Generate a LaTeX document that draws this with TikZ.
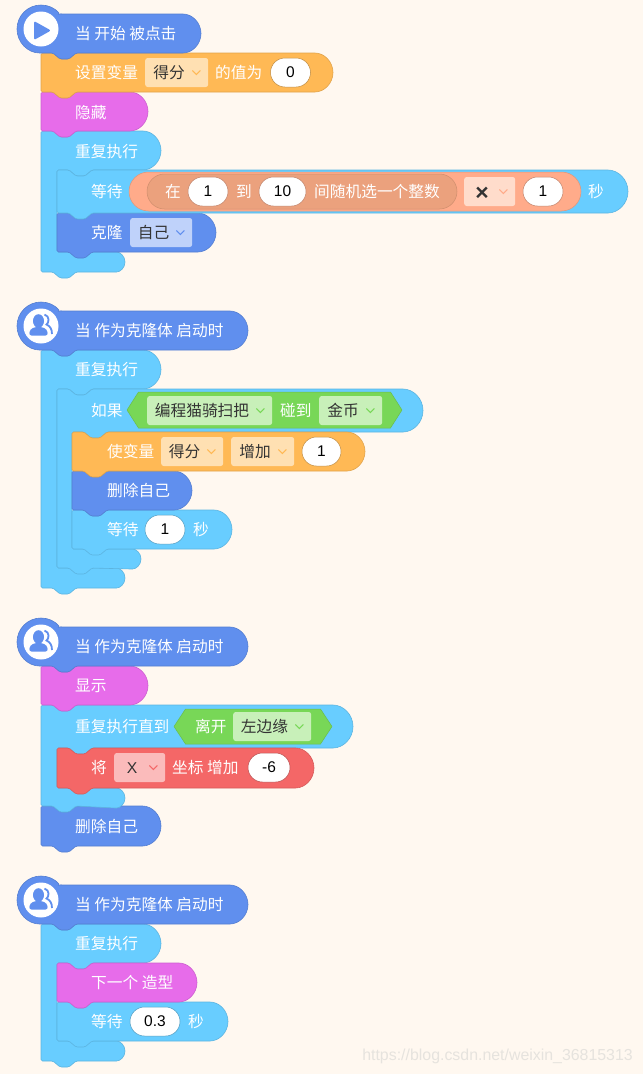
\documentclass[tikz,border=0pt]{standalone}
\usepackage{fontspec}
\setmainfont{Noto Sans CJK SC}
\newfontfamily\numfont{Liberation Sans}
\usepackage{xcolor}
\usetikzlibrary{positioning}
\definecolor{rpaper}{HTML}{FFF8F0}
\definecolor{rblue}{HTML}{608FEE}
\definecolor{rorange}{HTML}{FFB955}
\definecolor{rpink}{HTML}{E76CEA}
\definecolor{rcyan}{HTML}{68CDFF}
\definecolor{rgreen}{HTML}{78D757}
\definecolor{rred}{HTML}{F46767}
\definecolor{rsalmon}{HTML}{FFAB8A}
\definecolor{rsalmondark}{HTML}{EBA17D}
\definecolor{rorangepale}{HTML}{FFE0B2}
\definecolor{rbluepale}{HTML}{BFD2FA}
\definecolor{rgreenpale}{HTML}{C8F0B9}
\definecolor{rredpale}{HTML}{FBBBBB}
\definecolor{rsalmonpale}{HTML}{FFDCCB}
\definecolor{rink}{HTML}{333333}
\definecolor{rwater}{HTML}{E6E3DE}
\tikzset{
  blockedge/.style={fill=#1,draw=#1!88!black,line width=.6pt,rounded corners=1.5pt},
  blocktext/.style={anchor=west,inner sep=0pt,text=white,text height=13pt,text depth=1pt,font=\fontsize{15.7}{16}\selectfont},
  inktext/.style={anchor=center,inner sep=0pt,text=rink,text height=13pt,text depth=1pt,font=\fontsize{15.7}{16}\selectfont},
  numpill/.style={fill=white,draw=#1!75!black,line width=.5pt,rounded corners=14.5pt,minimum height=29pt,inner sep=0pt,text=black,font=\numfont\fontsize{15.5}{16}\selectfont},
  dropbox/.style={fill=#1,rounded corners=2.5pt,minimum height=29pt,inner sep=0pt,anchor=west},
  dropchev/.style={draw=#1,line width=1.1pt},
  reporter/.style={fill=#1,draw=#1!88!black,line width=.5pt,inner sep=0pt},
  iconball/.style={circle,fill=white,minimum size=35pt,inner sep=0pt}
}
\newcommand{\stackshape}[5]{
  \pgfmathsetmacro{\capr}{(#4-#3)/2}
  \draw[blockedge=#1] (#2,#3) -- (#2+12,#3) -- (#2+19,#3+6) -- (#2+28,#3+6) -- (#2+35,#3) -- (#5-\capr,#3)
    arc[start angle=-90,end angle=90,radius=\capr] -- (#2+35,#4) -- (#2+28,#4+6) -- (#2+19,#4+6) -- (#2+12,#4) -- (#2,#4) -- cycle;
}
\newcommand{\hatshape}[3]{
  \draw[blockedge=#1] (59.7,#2-39) -- (#3-19.5,#2-39) arc[start angle=-90,end angle=90,radius=19.5]
    -- (76,#2) -- (69,#2+6) -- (60,#2+6) -- (53,#2) -- (41,#2) arc[start angle=90,end angle=321.3,radius=24] -- cycle;
}
\newcommand{\loopshape}[9]{
  \pgfmathsetmacro{\capr}{(#4-#3)/2}
  \draw[blockedge=#1] (#2,#3) -- (#2+12,#3) -- (#2+19,#3+6) -- (#2+28,#3+6) -- (#2+35,#3) -- (#5-\capr,#3)
    arc[start angle=-90,end angle=90,radius=\capr] -- (#6+35,#4) -- (#6+28,#4+6) -- (#6+19,#4+6) -- (#6+12,#4) -- (#6,#4)
    -- (#6,#7) -- (#8-10,#7) arc[start angle=-90,end angle=90,radius=10]
    -- (#2+35,#9) -- (#2+28,#9+6) -- (#2+19,#9+6) -- (#2+12,#9) -- (#2,#9) -- cycle;
}
\newcommand{\boolshape}[4]{
  \draw[reporter=rgreen,line join=round] (#1,#3/2+#4/2) -- (#1+11.5,#3) -- (#2-11.5,#3) -- (#2,#3/2+#4/2) -- (#2-11.5,#4) -- (#1+11.5,#4) -- cycle;
}
\newcommand{\dropmenu}[7]{
  \node[dropbox=#5,minimum width=#3pt] (#1) at (#2,#4) {};
  \node[inktext] (#1word) at ([xshift={(#3-15)/2}]#1.west) {#7};
  \draw[dropchev=#6,shift={(#1.east)}] (-16,-2) -- (-12,2) -- (-8,-2);
}
\newcommand{\cloneicon}[2]{
  \node[iconball] (#1) at (41,#2) {};
  \begin{scope}[shift={(#1.center)}]
    \fill[rblue] (-2.5,-5) ellipse (5.5 and 6.8);
    \fill[rblue,rounded corners=2.5pt] (-12,9.5) -- (-11,3.5) -- (-6,1) -- (1,1) -- (6,3.5) -- (7,9.5) -- cycle;
    \draw[rblue,line width=1.8pt] (3.5,-11.5) .. controls (9,-10) and (8,-3) .. (5.5,-1.5) .. controls (9,0) and (11,3) .. (11,8);
  \end{scope}
}
\begin{document}
\begin{tikzpicture}[x=1pt,y=-1pt]
  \useasboundingbox (0,0) rectangle (643,1074);
  \fill[rpaper] (0,0) rectangle (643,1074);

  \loopshape{rcyan}{41}{131}{170}{161}{57}{252}{125}{272}
  \stackshape{rblue}{57}{213}{252}{216}
  \stackshape{rcyan}{57}{170}{213}{628}
  \stackshape{rpink}{41}{92}{131}{148}
  \stackshape{rorange}{41}{53}{92}{333}
  \hatshape{rblue}{53}{201}
  \node[iconball] (playball) at (41,29) {};
  \fill[rblue,rounded corners=2pt] (34,21) -- (51,30.5) -- (34,40) -- cycle;
  \node[blocktext] (starttext) at (75,33.5) {当 开始 被点击};
  \node[blocktext] (settext) at (75,72.5) {设置变量};
  \dropmenu{setvar}{145}{63}{72.5}{rorangepale}{rorange}{得分}
  \node[blocktext] (setvalue) at (215,72.5) {的值为};
  \node[numpill=rorange,minimum width=40pt] (setzero) at (290.5,72.5) {0};
  \node[blocktext] (hidetext) at (75,112) {隐藏};
  \node[blocktext] (looptext) at (75,151) {重复执行};
  \node[blocktext] (waittext) at (91,191.5) {等待};
  \node[reporter=rsalmon,rounded corners=19.5pt,minimum width=452pt,minimum height=39pt] (mathpill) at (355,191.5) {};
  \node[reporter=rsalmondark,rounded corners=17.5pt,minimum width=310pt,minimum height=35pt] (randpill) at (302,191.5) {};
  \node[blocktext] (randfrom) at (165,191.5) {在};
  \node[numpill=rsalmon,minimum width=40pt] (randlow) at (208,191.5) {1};
  \node[blocktext] (randto) at (236,191.5) {到};
  \node[numpill=rsalmon,minimum width=47pt] (randhigh) at (282.5,191.5) {10};
  \node[blocktext] (randpick) at (314,191.5) {间随机选一个整数};
  \dropmenu{mathop}{464}{51}{191.5}{rsalmonpale}{rsalmon}{\raisebox{-3pt}{\numfont\bfseries\fontsize{23}{23}\selectfont ×}}
  \node[numpill=rsalmon,minimum width=40pt] (mathone) at (543,191.5) {1};
  \node[blocktext] (waitunit) at (588,191.5) {秒};
  \node[blocktext] (clonetext) at (91,232.5) {克隆};
  \dropmenu{clonewho}{130}{62}{232.5}{rbluepale}{rblue}{自己}

  \loopshape{rcyan}{41}{350}{389}{161}{57}{568}{125}{588}
  \loopshape{rcyan}{57}{389}{432}{423}{72}{549}{141}{568}
  \stackshape{rcyan}{72}{510}{549}{232}
  \stackshape{rblue}{72}{471}{510}{192}
  \stackshape{rorange}{72}{432}{471}{365}
  \hatshape{rblue}{350}{248}
  \cloneicon{cloneball}{326}
  \node[blocktext] (cloneone) at (75,330.5) {当 作为克隆体 启动时};
  \node[blocktext] (looptwo) at (75,369.5) {重复执行};
  \node[blocktext] (iftext) at (91,410.5) {如果};
  \boolshape{127}{402}{392}{428}
  \dropmenu{ifsprite}{147}{125}{410.5}{rgreenpale}{rgreen}{编程猫骑扫把}
  \node[blocktext] (iftouch) at (280,410.5) {碰到};
  \dropmenu{ifcoin}{319}{63}{410.5}{rgreenpale}{rgreen}{金币}
  \node[blocktext] (changetext) at (107,451.5) {使变量};
  \dropmenu{changevar}{161}{62}{451.5}{rorangepale}{rorange}{得分}
  \dropmenu{changeop}{231}{63}{451.5}{rorangepale}{rorange}{增加}
  \node[numpill=rorange,minimum width=39pt] (changeone) at (321.5,451.5) {1};
  \node[blocktext] (deleteone) at (107,490.5) {删除自己};
  \node[blocktext] (waittwo) at (107,529.5) {等待};
  \node[numpill=rcyan,minimum width=40pt] (waitone) at (165,529.5) {1};
  \node[blocktext] (unittwo) at (193,529.5) {秒};

  \stackshape{rblue}{41}{806}{846}{161}
  \loopshape{rcyan}{41}{705}{748}{353}{57}{788}{125}{806}
  \stackshape{rred}{57}{748}{788}{314}
  \stackshape{rpink}{41}{666}{705}{148}
  \hatshape{rblue}{666}{248}
  \cloneicon{cloneballb}{642}
  \node[blocktext] (clonetwo) at (75,646.5) {当 作为克隆体 启动时};
  \node[blocktext] (showtext) at (75,685.5) {显示};
  \node[blocktext] (untiltext) at (75,726.5) {重复执行直到};
  \boolshape{174}{332}{709}{744}
  \node[blocktext] (leavetext) at (195,726.5) {离开};
  \dropmenu{leaveedge}{233}{78}{726.5}{rgreenpale}{rgreen}{左边缘}
  \node[blocktext] (movetext) at (91,767.5) {将};
  \dropmenu{moveaxis}{114}{51}{767.5}{rredpale}{rred}{\numfont X}
  \node[blocktext] (moveby) at (172,767.5) {坐标 增加};
  \node[numpill=rred,minimum width=42pt] (movestep) at (269,767.5) {-6};
  \node[blocktext] (deletetwo) at (75,826.5) {删除自己};

  \loopshape{rcyan}{41}{924}{963}{161}{57}{1041}{125}{1061}
  \stackshape{rcyan}{57}{1002}{1041}{228}
  \stackshape{rpink}{57}{963}{1002}{197}
  \hatshape{rblue}{924}{248}
  \cloneicon{cloneballc}{900}
  \node[blocktext] (clonethree) at (75,904.5) {当 作为克隆体 启动时};
  \node[blocktext] (loopthree) at (75,943.5) {重复执行};
  \node[blocktext] (nexttext) at (91,982.5) {下一个 造型};
  \node[blocktext] (waitthree) at (91,1021.5) {等待};
  \node[numpill=rcyan,minimum width=50pt] (waitfrac) at (155,1021.5) {0.3};
  \node[blocktext] (unitthree) at (188,1021.5) {秒};

  \node[anchor=east,inner sep=0pt,text=rwater,font=\numfont\fontsize{15.9}{16}\selectfont] (watermark) at (633,1056) {https://blog.csdn.net/weixin\_36815313};
\end{tikzpicture}
\end{document}
